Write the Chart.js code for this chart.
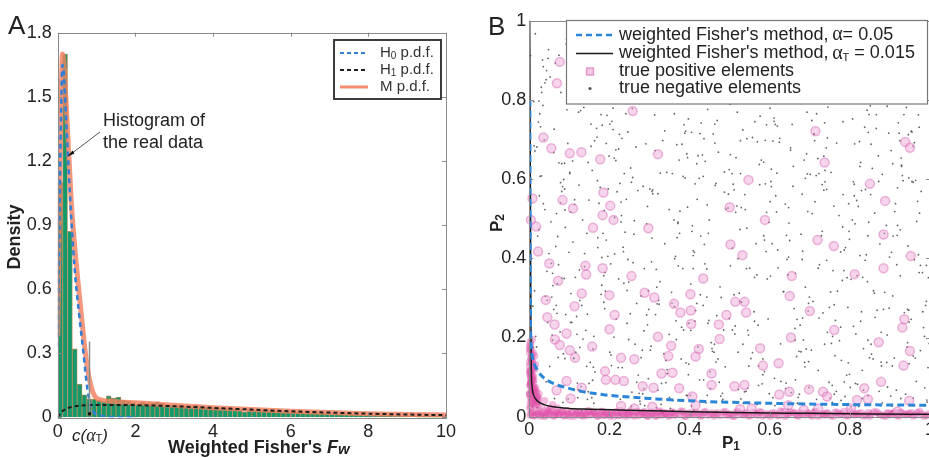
<!DOCTYPE html>
<html>
<head>
<meta charset="utf-8">
<script src="https://cdn.jsdelivr.net/npm/chart.js@4.4.1/dist/chart.umd.min.js"></script>
<style>
  html, body { margin: 0; padding: 0; background: #fff; overflow: hidden; width: 929px; height: 458px; }
  #wrapA { position: absolute; left: 0; top: 0; width: 460px; height: 458px; }
  #wrapB { position: absolute; left: 460px; top: 0; width: 480px; height: 458px; }
</style>
</head>
<body>
<div id="wrapA"><canvas id="chartA" width="460" height="458"></canvas></div>
<div id="wrapB"><canvas id="chartB" width="480" height="458"></canvas></div>
<script>
// ---------- panel A: distribution of the weighted Fisher statistic ----------
const binWidth = 0.125;
const histHeights = [
  1.10, 1.70, 0.87, 0.32, 0.155, 0.105, 0.085, 0.085, 0.080, 0.075,
  0.100, 0.090, 0.095, 0.080, 0.075, 0.070, 0.058, 0.070, 0.065, 0.068,
  0.072, 0.065, 0.060, 0.058, 0.055, 0.055, 0.052, 0.050, 0.058, 0.050,
  0.047, 0.045, 0.044, 0.043, 0.042, 0.040, 0.040, 0.036, 0.025, 0.035,
  0.033, 0.032, 0.031, 0.030, 0.028, 0.027, 0.026, 0.025, 0.024, 0.023,
  0.021, 0.022, 0.020, 0.019, 0.018, 0.018, 0.017, 0.016, 0.015, 0.015,
  0.014, 0.013, 0.013, 0.012, 0.012, 0.011, 0.011, 0.010, 0.010, 0.008,
  0.008, 0.007, 0.007, 0.007, 0.006, 0.006, 0.006, 0.005, 0.005, 0.005
];
const fwTicks = [0, 2, 4, 6, 8, 10];
const densityTicks = [0, 0.3, 0.6, 0.9, 1.2, 1.5, 1.8];

const h0X = [0, 0.03, 0.06, 0.09, 0.12, 0.15, 0.2, 0.27, 0.35, 0.45, 0.55, 0.65, 0.75, 0.85, 0.95, 1.1, 1.3, 1.6, 2.0];
const h0Y = [0.33, 0.75, 1.15, 1.48, 1.65, 1.62, 1.45, 1.2, 0.92, 0.66, 0.48, 0.32, 0.15, 0.05, 0.02, 0.008, 0.003, 0.001, 0];

const h1X = [0, 0.05, 0.1, 0.2, 0.3, 0.5, 0.8, 1.2, 1.6, 2, 2.5, 3, 3.5, 4, 5, 6, 7, 8, 9, 10];
const h1Y = [0, 0.015, 0.026, 0.038, 0.046, 0.053, 0.057, 0.058, 0.058, 0.057, 0.055, 0.052, 0.048, 0.044, 0.036, 0.028, 0.022, 0.017, 0.013, 0.010];

const mixX = [0, 0.03, 0.06, 0.09, 0.12, 0.15, 0.2, 0.27, 0.35, 0.45, 0.55, 0.65, 0.75, 0.85, 0.95, 1.1, 1.3, 1.6, 2, 2.5, 3, 3.5, 4, 5, 6, 7, 8, 9, 10];
const mixY = [0.38, 0.8, 1.2, 1.52, 1.70, 1.68, 1.52, 1.28, 1.0, 0.77, 0.58, 0.40, 0.245, 0.15, 0.1, 0.082, 0.076, 0.072, 0.068, 0.062, 0.056, 0.05, 0.045, 0.036, 0.028, 0.022, 0.017, 0.013, 0.011];

const cutoffX = 0.81;      // c(alpha_T)
const cutoffTop = 0.354;

// ---------- panel B: p-value pairs and rejection boundaries ----------
const pTicks = [0, 0.2, 0.4, 0.6, 0.8, 1];

const bound05X = [0.0015, 0.002, 0.003, 0.005, 0.008, 0.013, 0.02, 0.03, 0.045, 0.065, 0.09, 0.13, 0.19, 0.3, 0.4, 0.55, 0.7, 0.85, 1.0];
const bound05Y = [0.80, 0.45, 0.25, 0.175, 0.15, 0.132, 0.118, 0.104, 0.092, 0.082, 0.074, 0.064, 0.055, 0.046, 0.040, 0.035, 0.032, 0.030, 0.029];

const boundTX = [0.001, 0.003, 0.004, 0.005, 0.007, 0.01, 0.015, 0.022, 0.035, 0.06, 0.1, 0.15, 0.22, 0.3, 0.4, 0.55, 0.7, 0.85, 1.0];
const boundTY = [1.0, 0.5, 0.25, 0.12, 0.075, 0.057, 0.046, 0.038, 0.031, 0.025, 0.021, 0.019, 0.017, 0.015, 0.0125, 0.010, 0.0085, 0.007, 0.006];

// true positives away from the axes
const positivesScattered = [
  [0.076,0.896],[0.069,0.842],[0.258,0.772],[0.035,0.705],[0.055,0.678],[0.101,0.665],[0.130,0.668],[0.177,0.650],
  [0.321,0.663],[0.714,0.721],[0.737,0.642],[0.938,0.694],[0.950,0.679],[0.547,0.598],[0.850,0.588],[0.888,0.545],
  [0.008,0.551],[0.004,0.497],[0.017,0.480],[0.022,0.417],[0.083,0.547],[0.109,0.526],[0.185,0.566],[0.202,0.533],
  [0.183,0.509],[0.210,0.497],[0.159,0.477],[0.297,0.476],[0.500,0.529],[0.588,0.497],[0.502,0.435],[0.719,0.446],
  [0.760,0.431],[0.884,0.460],[0.952,0.406],[0.532,0.408],[0.050,0.387],[0.140,0.381],[0.142,0.359],[0.183,0.375],
  [0.072,0.343],[0.255,0.355],[0.434,0.349],[0.655,0.355],[0.812,0.360],[0.884,0.375],[0.041,0.295],[0.131,0.311],
  [0.200,0.307],[0.288,0.313],[0.312,0.301],[0.402,0.309],[0.361,0.285],[0.113,0.279],[0.045,0.251],[0.063,0.233],
  [0.093,0.210],[0.200,0.221],[0.213,0.257],[0.377,0.263],[0.403,0.268],[0.404,0.234],[0.514,0.290],[0.537,0.290],
  [0.541,0.263],[0.492,0.257],[0.473,0.233],[0.650,0.305],[0.700,0.267],[0.936,0.246],[0.931,0.225],[0.761,0.219],
  [0.653,0.200],[0.872,0.188],[0.950,0.166],[0.934,0.129],[0.064,0.195],[0.076,0.181],[0.101,0.168],[0.114,0.149],
  [0.157,0.177],[0.229,0.149],[0.262,0.145],[0.321,0.202],[0.354,0.179],[0.347,0.153],[0.423,0.171],[0.415,0.152],
  [0.475,0.196],[0.576,0.173],[0.583,0.129],[0.622,0.135],[0.189,0.115],[0.191,0.093],[0.215,0.093],[0.236,0.090],
  [0.093,0.090],[0.068,0.067],[0.131,0.073],[0.103,0.046],[0.330,0.109],[0.357,0.111],[0.374,0.072],[0.283,0.077],
  [0.310,0.073],[0.455,0.109],[0.455,0.080],[0.512,0.077],[0.537,0.080],[0.624,0.056],[0.649,0.063],[0.698,0.069],
  [0.733,0.063],[0.743,0.051],[0.818,0.042],[0.836,0.072],[0.878,0.088],[0.948,0.040],[0.845,0.044],[0.407,0.051],
  [0.415,0.029],[0.526,0.019],[0.555,0.021],[0.646,0.029],[0.685,0.017],[0.721,0.021],[0.803,0.021],[0.919,0.013],
  [0.229,0.027],[0.307,0.025],[0.262,0.021]
];

// true positives packed along p2 ~ 0 (values in thousandths)
const bandX = "002 008 013 021 027 030 038 044 049 057 063 066 074 081 086 093 097 105 112 118 124 131 137 142 150 156 161 169 176 183 189 194 201 208 215 222 228 236 243 249 255 262 270 277 284 290 297 305 311 318 326 332 339 347 355 362 374 383 391 402 410 423 431 440 452 461 470 484 493 501 512 520 533 541 552 566 574 583 597 606 618 627 638 647 659 668 676 689 698 707 716 728 737 745 758 769 778 790 801 812 821 834 846 853 867 878 889 897 906 918 927 939 948 957 968 979 991 "
  + "005 010 017 023 029 035 041 047 052 060 068 071 078 084 090 095 101 108 115 121 127 134 140 146 153 159 166 172 179 186 192 198 205 212 219 226 233 240 246 252 259 266 273 281 287 294 301 308 315 322 329 336 343 351 359 366 378 387 395 406 415 427 436 446 457 466 477 489 497 507 516 527 537 547 559 570 579 590 601 612 623 633 643 653 663 672 682 694 703 712 722 733 741 752 763 774 785 795 807 817 828 840 850 860 872 884 893 902 912 923 933 944 953 963 974 985 996";
const bandY = "004 011 002 008 014 006 001 010 005 013 003 009 007 012 002 015 006 010 001 008 012 004 009 003 014 006 011 002 007 013 005 010 001 008 012 003 015 006 009 004 011 002 013 007 010 005 001 012 008 003 014 006 009 002 011 004 007 013 001 010 005 008 003 012 006 002 009 011 004 007 001 013 005 010 003 008 012 002 006 009 004 014 001 007 011 003 010 005 008 002 012 006 004 009 001 011 007 003 013 005 008 002 010 006 012 004 001 009 007 003 011 005 008 002 010 007 003 "
  + "008 003 012 006 001 010 004 014 007 002 011 005 009 013 003 008 001 012 006 010 004 002 009 014 005 011 007 001 013 003 008 006 010 002 012 004 009 001 007 014 005 011 003 008 013 002 006 010 001 012 004 009 007 003 011 005 014 001 008 006 010 002 012 004 009 007 003 013 005 001 011 008 006 002 010 004 012 007 001 009 003 013 005 011 008 002 006 010 004 012 001 007 009 003 011 005 013 002 008 006 010 004 001 012 007 003 009 005 011 002 008 006 010 004 013 001 007";

// true positives packed along p1 ~ 0
const edgeX = "002 009 004 014 001 007 019 003 011 006 016 002 008 013 005 021 001 010 004 017 007 002 012 006 003 009 015 001 005 024 008 002 011 004 018 006 001 013 003 009 030 045 058 022 070 038 015 052 "
  + "003 006 001 012 004 008 002 015 005 010 001 007 003 018 006 002 011 004 009 001 013 005 003 020 007 002 016 004 010 001";
const edgeY = "021 034 047 029 058 066 038 079 052 091 044 103 072 061 117 049 128 085 097 033 142 110 069 156 086 124 041 171 137 057 094 188 075 149 063 107 162 119 082 134 025 018 030 045 022 040 060 020 "
  + "026 039 054 070 083 099 114 131 146 160 176 195 036 050 065 078 092 105 121 138 153 168 182 030 044 059 073 088 102 116";

// true negatives (values in thousandths)
const negX = [
  "003 071 042 016 088 059 024 081 035 062 006 049 093 027 067 010 078 031 058 084 045 014 096 039 072 023 055 002 086 069 030 090 047 012 061 081 034 000 097 025 074 056 019 089 043 066 008 078 037 091",
  "147 103 182 126 169 111 195 138 157 120 184 106 173 149 131 192 115 166 143 178 109 188 124 154 134 199 117 161 181 128 145 101 176 159 113 190 137 171 122 152 186 108 164 141 197 119 179 133 156 125",
  "213 268 241 295 226 279 204 253 287 236 219 262 298 231 274 207 248 284 222 265 239 291 211 257 276 229 203 244 282 216 261 234 297 209 252 271 225 288 246 218 264 237 293 201 255 279 214 242 286 223",
  "338 302 371 315 394 327 356 309 383 344 321 367 398 333 352 306 377 341 389 318 362 330 395 312 349 374 305 358 386 324 337 369 301 391 346 317 381 355 327 366 308 397 339 372 314 350 385 320 361 343",
  "418 463 402 487 431 456 409 494 444 425 472 413 481 438 459 405 497 428 466 447 416 485 434 471 403 452 491 422 462 439 409 478 445 427 496 457 414 483 436 468 401 449 489 421 476 443 411 464 432 499",
  "527 581 503 562 545 519 598 536 574 511 553 589 524 566 507 541 592 530 577 515 557 585 521 548 599 533 571 509 555 583 526 564 502 546 594 517 572 538 560 513 587 543 522 579 550 506 596 534 568 529",
  "643 609 688 625 671 604 657 696 618 682 636 664 611 699 647 623 678 652 606 691 631 668 615 685 640 659 602 675 627 693 650 613 681 637 661 608 697 644 620 674 656 634 689 617 663 601 679 646 628 692",
  "719 764 701 748 782 727 793 710 756 738 771 704 789 745 723 766 797 733 752 712 779 741 786 716 761 729 795 706 751 774 735 717 783 758 726 799 742 708 769 731 792 753 714 777 744 721 786 703 760 737",
  "834 871 806 859 822 893 845 817 878 852 801 866 838 889 827 854 813 881 842 868 809 896 831 875 848 819 862 837 884 825 857 803 873 846 891 815 863 829 879 841 807 869 853 898 823 844 811 886 858 833",
  "917 953 902 978 936 964 911 989 945 924 971 907 958 932 995 919 948 983 927 961 904 942 976 914 957 991 929 966 908 951 986 921 939 973 913 998 947 926 969 905 955 981 933 963 918 944 992 928 959 974",
  "051 012 087 033 068 005 094 046 021 079 058 015 083 040 063 028 099 052 009 074 037 089 018 065 044 001 077 030 092 056 024 070 011 085 048 035 061 096 019 073 042 007 081 054 026 067 013 088 039 057",
  "113 158 182 104 139 171 126 193 147 118 165 136 189 109 152 177 131 198 144 121 163 186 107 141 174 129 155 196 116 168 134 181 101 149 192 123 161 137 187 111 154 179 128 145 170 103 194 138 160 117",
  "236 271 205 258 289 217 246 283 229 264 201 295 241 274 223 252 286 212 268 235 299 248 219 277 206 259 291 232 266 213 244 282 227 255 297 209 272 238 261 225 288 203 251 279 216 242 293 230 267 256",
  "341 376 309 362 395 328 353 317 388 336 371 302 359 384 323 347 398 313 365 339 380 306 351 392 326 368 344 311 375 333 397 319 357 386 304 349 372 321 363 390 315 345 379 308 356 329 393 338 367 324",
  "426 461 407 493 444 418 479 452 403 487 435 469 412 498 446 424 482 457 409 471 438 496 415 463 441 428 485 454 401 476 432 467 419 490 448 405 474 437 458 421 499 443 413 481 466 429 451 406 488 434",
  "562 504 591 537 576 518 548 583 511 569 528 597 543 507 574 556 521 589 534 563 502 581 547 516 572 539 594 525 557 583 509 566 531 596 542 575 514 553 587 527 568 506 545 592 519 561 579 533 501 585",
  "626 667 603 689 645 614 678 633 697 652 608 671 639 684 621 659 694 641 611 676 648 629 687 604 664 637 698 617 655 682 624 669 642 606 691 658 635 673 612 686 647 601 663 628 695 654 619 681 638 673",
  "742 705 788 723 761 714 796 735 752 781 708 767 729 791 744 717 773 756 702 785 738 763 726 799 749 711 778 731 795 754 720 769 746 787 713 759 733 777 706 792 741 724 766 751 783 716 757 737 798 721",
  "856 814 879 832 897 845 821 868 803 886 851 827 874 839 892 812 861 846 883 825 857 809 872 837 894 818 864 849 881 806 876 843 829 888 853 817 869 834 899 824 863 841 878 811 855 887 831 866 847 893",
  "943 907 976 921 958 935 989 912 964 948 903 971 927 984 955 916 939 996 923 967 951 909 982 931 962 944 918 973 905 991 936 958 925 969 947 913 987 929 961 941 906 978 933 953 919 993 946 926 971 958"
];
const negY = [
  "912 455 088 203 640 331 797 569 884 726 148 412 953 607 281 175 540 819 362 036 294 671 908 523 150 744 387 016 599 261 832 478 905 123 667 350 786 219 045 558 913 302 681 147 874 430 025 591 699 258",
  "063 517 832 294 706 148 951 379 622 085 463 238 879 547 015 690 352 804 127 968 441 273 585 739 196 658 921 034 402 773 259 614 887 171 536 317 995 452 068 821 289 646 113 934 575 208 763 497 048 371",
  "411 087 765 232 589 943 156 628 374 017 812 495 271 703 059 936 340 582 124 857 466 689 201 778 039 542 915 319 168 647 883 428 096 725 260 571 004 838 397 952 183 614 487 739 026 305 866 549 217 676",
  "722 168 491 836 053 615 287 948 374 109 563 808 236 697 021 451 879 142 603 327 765 084 529 971 208 648 391 015 737 284 916 452 575 136 859 023 688 314 797 242 563 106 926 381 672 049 219 834 497 617",
  "286 739 054 618 943 172 407 821 535 093 668 241 975 386 714 027 562 849 138 463 792 219 607 968 335 071 524 887 183 645 419 052 776 308 931 165 588 044 702 255 871 497 126 659 938 373 016 584 827 248",
  "614 083 947 352 218 769 491 035 826 573 147 698 312 951 426 064 737 289 880 516 162 643 399 979 058 724 231 587 843 106 473 011 662 917 348 795 128 561 853 209 446 702 069 982 375 614 247 893 031 528",
  "397 852 126 703 049 581 934 267 615 418 871 093 746 302 528 983 164 679 437 012 795 246 558 893 071 632 355 917 184 769 445 028 562 811 273 696 139 984 421 057 738 316 602 875 193 543 947 358 089 664",
  "958 243 612 087 479 826 351 714 036 593 901 168 427 782 249 064 538 873 315 697 142 986 421 609 057 834 276 513 905 192 658 044 745 369 823 107 574 291 946 468 031 617 859 226 704 375 088 961 532 183",
  "172 659 943 318 026 784 457 896 213 561 074 728 395 916 642 158 487 035 801 269 593 947 117 436 763 082 514 879 271 632 995 347 064 718 483 209 836 571 128 409 752 003 688 274 965 341 558 817 146 903",
  "384 721 052 916 263 597 148 849 431 016 762 305 683 947 124 578 239 871 046 692 415 803 167 538 974 291 632 089 456 815 203 742 057 364 921 185 603 472 838 027 719 364 596 148 886 271 042 653 917 514",
  "127 684 349 901 513 062 775 238 456 819 193 967 581 304 046 732 415 858 279 641 003 522 176 893 367 749 214 608 941 085 473 336 796 159 927 538 271 690 023 384 851 117 639 492 765 006 318 575 843 206",
  "548 092 736 311 869 427 175 993 642 253 016 781 364 905 137 579 281 824 463 048 697 356 912 218 539 076 852 405 163 728 991 332 617 084 446 769 203 958 521 147 683 309 872 044 596 238 761 412 125 934",
  "337 861 129 604 983 247 719 058 492 876 163 531 012 795 348 924 071 653 286 417 839 195 568 032 746 389 957 124 681 503 236 867 044 592 318 779 105 954 461 713 028 386 821 149 674 933 257 508 796 062",
  "086 519 943 278 654 017 831 372 716 159 488 923 041 607 294 858 133 762 405 978 226 569 892 054 341 687 119 836 463 009 752 285 614 937 178 523 846 067 399 721 258 984 146 573 812 031 664 437 195 906",
  "715 163 482 927 054 639 301 876 218 567 093 748 415 981 236 602 059 839 374 146 913 527 268 691 035 456 804 187 973 328 661 012 549 896 243 718 087 435 963 176 624 302 851 039 589 742 114 468 935 281",
  "241 886 417 063 759 532 128 973 308 694 045 851 476 219 637 992 163 588 034 745 381 917 206 654 079 523 838 291 705 146 968 437 012 861 374 586 229 943 114 697 358 801 072 516 934 265 648 183 789 457",
  "863 152 594 327 019 738 461 905 286 673 048 819 537 194 376 942 613 085 754 231 489 968 137 625 362 891 074 517 806 249 693 034 458 927 171 582 316 854 097 648 403 779 223 951 518 061 734 397 876 165",
  "395 748 051 614 283 927 136 572 809 344 018 691 457 982 213 765 508 079 836 369 622 154 907 448 276 713 041 586 933 185 652 317 874 029 543 798 262 416 958 105 679 384 821 047 561 936 203 742 468 117",
  "627 084 948 352 716 193 531 869 026 463 785 241 918 574 137 689 312 053 846 407 962 228 594 731 075 356 883 149 612 497 028 774 265 938 183 546 819 067 403 695 251 972 138 587 824 314 046 763 491 206",
  "176 639 382 915 047 763 281 518 896 134 672 409 958 225 594 067 837 351 716 493 028 874 265 609 942 187 458 731 014 382 826 153 697 544 269 918 073 635 397 781 128 569 905 246 483 037 712 356 864 592"
];

// ---------- helpers ----------
const SANS = '"Liberation Sans", Arial, sans-serif';
const SERIF = '"Liberation Serif", "Times New Roman", serif';
const INK = '#222';

const milli = s => s.trim().split(/\s+/).map(v => +v / 1000);
const toPoints = (xs, ys) => xs.slice(0, Math.min(xs.length, ys.length)).map((x, i) => ({ x, y: ys[i] }));
const linePoints = (xs, ys) => xs.map((x, i) => ({ x, y: ys[i] }));

function drawRuns(ctx, x, y, parts) {
  for (const p of parts) {
    ctx.font = p.font;
    ctx.fillText(p.text, x, y + (p.dy || 0));
    x += ctx.measureText(p.text).width;
  }
  return x;
}
function runsWidth(ctx, parts) {
  let w = 0;
  for (const p of parts) { ctx.font = p.font; w += ctx.measureText(p.text).width; }
  return w;
}
function frameWithTicks(ctx, a, x, y, xt, yt, color) {
  ctx.strokeStyle = color;
  ctx.lineWidth = 1;
  ctx.strokeRect(Math.round(a.left) + 0.5, Math.round(a.top) + 0.5,
    Math.round(a.right - a.left), Math.round(a.bottom - a.top));
  ctx.beginPath();
  xt.forEach(v => {
    const px = Math.round(x.getPixelForValue(v)) + 0.5;
    ctx.moveTo(px, a.bottom); ctx.lineTo(px, a.bottom - 4);
    ctx.moveTo(px, a.top); ctx.lineTo(px, a.top + 4);
  });
  yt.forEach(v => {
    const py = Math.round(y.getPixelForValue(v)) + 0.5;
    ctx.moveTo(a.left, py); ctx.lineTo(a.left + 4, py);
    ctx.moveTo(a.right, py); ctx.lineTo(a.right - 4, py);
  });
  ctx.stroke();
}
const fixedTicks = list => scale => { scale.ticks = list.map(v => ({ value: v })); };
const tickLabel = v => String(+v.toFixed(2));

// ---------- panel A ----------
const panelA = {
  id: 'panelA',
  afterDatasetsDraw(chart) {
    const { ctx, chartArea: a, scales: { x, y } } = chart;
    ctx.save();
    const cx = Math.round(x.getPixelForValue(cutoffX)) + 0.5;
    ctx.strokeStyle = '#8c8c8c';
    ctx.lineWidth = 1.5;
    ctx.beginPath();
    ctx.moveTo(cx, y.getPixelForValue(cutoffTop));
    ctx.lineTo(cx, a.bottom);
    ctx.stroke();
    ctx.fillStyle = '#111';
    ctx.fillRect(cx - 1.5, a.bottom - 5, 3, 3);
    ctx.restore();
  },
  afterDraw(chart) {
    const { ctx, chartArea: a, scales: { x, y } } = chart;
    ctx.save();
    frameWithTicks(ctx, a, x, y, fwTicks, densityTicks, '#8a8a8a');

    // legend
    ctx.fillStyle = '#fff';
    ctx.fillRect(334, 40, 107, 59);
    ctx.strokeStyle = '#3c3c3c';
    ctx.lineWidth = 2;
    ctx.strokeRect(334, 40, 107, 59);
    const items = [
      { sub: '0', color: '#3b7fd4', dash: [4, 3], w: 2, label: ' p.d.f.', head: 'H' },
      { sub: '1', color: '#1e1e1e', dash: [4, 3], w: 2, label: ' p.d.f.', head: 'H' },
      { sub: '', color: 'rgba(243,128,95,0.9)', dash: [], w: 3, label: 'M p.d.f.', head: '' }
    ];
    items.forEach((it, i) => {
      const ly = 53 + i * 17;
      ctx.strokeStyle = it.color;
      ctx.lineWidth = it.w;
      ctx.setLineDash(it.dash);
      ctx.beginPath(); ctx.moveTo(340, ly); ctx.lineTo(368, ly); ctx.stroke();
      ctx.setLineDash([]);
      ctx.fillStyle = '#333';
      ctx.textBaseline = 'middle';
      ctx.textAlign = 'left';
      const parts = [];
      if (it.head) parts.push({ text: it.head, font: '15px ' + SANS });
      if (it.sub) parts.push({ text: it.sub, font: '10px ' + SANS, dy: 3 });
      parts.push({ text: it.label, font: '15px ' + SANS });
      drawRuns(ctx, 380, ly, parts);
    });

    // annotation with arrow
    ctx.fillStyle = INK;
    ctx.font = '18px ' + SANS;
    ctx.textBaseline = 'middle';
    ctx.fillText('Histogram of', 103, 121);
    ctx.fillText('the real data', 103, 143);
    ctx.strokeStyle = '#555';
    ctx.lineWidth = 1;
    ctx.beginPath(); ctx.moveTo(100, 132); ctx.lineTo(69, 155.5); ctx.stroke();
    ctx.fillStyle = '#111';
    ctx.beginPath();
    ctx.moveTo(67.5, 156.5); ctx.lineTo(72.5, 150.5); ctx.lineTo(74.5, 153.5); ctx.closePath();
    ctx.fill();

    // axis labels
    ctx.fillStyle = INK;
    ctx.font = '26px ' + SANS;
    ctx.textBaseline = 'alphabetic';
    ctx.fillText('A', 8, 34);

    ctx.save();
    ctx.translate(15, 237);
    ctx.rotate(-Math.PI / 2);
    ctx.textAlign = 'center';
    ctx.textBaseline = 'middle';
    ctx.font = 'bold 18px ' + SANS;
    ctx.fillText('Density', 0, 0);
    ctx.restore();

    ctx.textBaseline = 'middle';
    ctx.textAlign = 'left';
    drawRuns(ctx, 168, 448, [
      { text: "Weighted Fisher's ", font: 'bold 18px ' + SANS },
      { text: 'F', font: 'italic bold 18px ' + SANS },
      { text: 'w', font: 'italic bold 15px ' + SANS, dy: 2 }
    ]);

    drawRuns(ctx, 72, 436, [
      { text: 'c(', font: 'italic 17px ' + SANS },
      { text: 'α', font: 'italic 18px ' + SERIF },
      { text: 'T', font: '11px ' + SANS, dy: 3 },
      { text: ')', font: 'italic 17px ' + SANS }
    ]);
    ctx.restore();
  }
};

new Chart(document.getElementById('chartA'), {
  type: 'bar',
  data: {
    datasets: [
      {
        type: 'line', label: 'H1 p.d.f.', order: 1,
        data: linePoints(h1X, h1Y),
        borderColor: '#1e1e1e', borderWidth: 2, borderDash: [4, 3],
        pointRadius: 0, cubicInterpolationMode: 'monotone', fill: false
      },
      {
        type: 'line', label: 'H0 p.d.f.', order: 2,
        data: linePoints(h0X, h0Y),
        borderColor: '#2f7fd6', borderWidth: 2.5, borderDash: [5, 4],
        pointRadius: 0, cubicInterpolationMode: 'monotone', fill: false
      },
      {
        type: 'line', label: 'M p.d.f.', order: 3,
        data: linePoints(mixX, mixY),
        borderColor: 'rgba(243,128,95,0.82)', borderWidth: 5,
        pointRadius: 0, cubicInterpolationMode: 'monotone', fill: false
      },
      {
        type: 'bar', label: 'histogram', order: 4,
        data: histHeights.map((h, i) => ({ x: (i + 0.5) * binWidth, y: h })),
        backgroundColor: '#15996a', borderColor: '#b98c5c', borderWidth: 0.8,
        borderSkipped: 'bottom', barPercentage: 1, categoryPercentage: 1
      }
    ]
  },
  options: {
    responsive: false,
    animation: false,
    events: [],
    layout: { padding: { top: 32.7, right: 14, left: 0, bottom: 0 } },
    plugins: { legend: { display: false }, tooltip: { enabled: false } },
    scales: {
      x: {
        type: 'linear', min: 0, max: 10, offset: false,
        afterBuildTicks: fixedTicks(fwTicks),
        afterFit: s => { s.height = 40.7; },
        grid: { display: false, drawTicks: false, offset: false },
        border: { display: false },
        ticks: { font: { family: SANS, size: 18 }, color: INK, padding: 4, callback: tickLabel, maxRotation: 0 }
      },
      y: {
        min: 0, max: 1.8,
        afterBuildTicks: fixedTicks(densityTicks),
        afterFit: s => { s.width = 57.8; },
        grid: { display: false, drawTicks: false },
        border: { display: false },
        ticks: { font: { family: SANS, size: 18 }, color: INK, padding: 6, callback: tickLabel }
      }
    }
  },
  plugins: [panelA]
});

// ---------- panel B ----------
const positives = positivesScattered.map(([x, y]) => ({ x, y }));
const positivesPacked = toPoints(milli(bandX), milli(bandY))
  .concat(toPoints(milli(edgeX), milli(edgeY)));
const negatives = toPoints(milli(negX.join(' ')), milli(negY.join(' ')));

const panelB = {
  id: 'panelB',
  afterDraw(chart) {
    const { ctx, chartArea: a, scales: { x, y } } = chart;
    ctx.save();
    frameWithTicks(ctx, a, x, y, pTicks, pTicks, '#8a8a8a');

    // legend
    ctx.fillStyle = '#fff';
    ctx.fillRect(106.5, 20.5, 361, 83.5);
    ctx.strokeStyle = '#777';
    ctx.lineWidth = 1.2;
    ctx.strokeRect(106.5, 20.5, 361, 83.5);

    ctx.lineWidth = 2.5;
    ctx.strokeStyle = '#2b86d8';
    ctx.setLineDash([6, 4]);
    ctx.beginPath(); ctx.moveTo(116, 35); ctx.lineTo(153, 35); ctx.stroke();
    ctx.setLineDash([]);
    ctx.lineWidth = 1.5;
    ctx.strokeStyle = '#1a1a1a';
    ctx.beginPath(); ctx.moveTo(116, 53.5); ctx.lineTo(153, 53.5); ctx.stroke();

    ctx.fillStyle = 'rgba(240,195,225,0.9)';
    ctx.fillRect(126.5, 68, 7, 7);
    ctx.strokeStyle = 'rgba(220,120,185,0.7)';
    ctx.lineWidth = 1.5;
    ctx.strokeRect(126.5, 68, 7, 7);
    ctx.fillStyle = '#555';
    ctx.beginPath(); ctx.arc(130, 88.5, 1.6, 0, Math.PI * 2); ctx.fill();

    ctx.fillStyle = INK;
    ctx.textBaseline = 'middle';
    ctx.textAlign = 'left';
    const tx = 159;
    drawRuns(ctx, tx, 35, [
      { text: "weighted Fisher's method,\u2009", font: '18px ' + SANS },
      { text: 'α', font: '20px ' + SERIF },
      { text: '= 0.05', font: '18px ' + SANS }
    ]);
    drawRuns(ctx, tx, 53.5, [
      { text: "weighted Fisher's method,\u2009", font: '18px ' + SANS },
      { text: 'α', font: '20px ' + SERIF },
      { text: 'T', font: '11px ' + SANS, dy: 4 },
      { text: ' = 0.015', font: '18px ' + SANS }
    ]);
    ctx.font = '18px ' + SANS;
    ctx.fillText('true positive elements', tx, 71.5);
    ctx.fillText('true negative elements', tx, 88.5);

    // panel letter and axis titles
    ctx.font = '26px ' + SANS;
    ctx.textBaseline = 'alphabetic';
    ctx.fillText('B', 28, 35);

    ctx.textBaseline = 'middle';
    const p1 = [
      { text: 'P', font: 'bold 17px ' + SANS },
      { text: '1', font: 'bold 12px ' + SANS, dy: 4 }
    ];
    drawRuns(ctx, 271 - runsWidth(ctx, p1) / 2, 443, p1);

    ctx.save();
    ctx.translate(37, 223);
    ctx.rotate(-Math.PI / 2);
    const p2 = [
      { text: 'P', font: 'bold 17px ' + SANS },
      { text: '2', font: 'bold 12px ' + SANS, dy: 4 }
    ];
    drawRuns(ctx, -runsWidth(ctx, p2) / 2, 0, p2);
    ctx.restore();
    ctx.restore();
  }
};

new Chart(document.getElementById('chartB'), {
  type: 'scatter',
  data: {
    datasets: [
      {
        type: 'line', label: 'weighted Fisher, alpha = 0.05', order: 1,
        data: linePoints(bound05X, bound05Y),
        borderColor: '#2b86d8', borderWidth: 3, borderDash: [7, 4],
        pointRadius: 0, cubicInterpolationMode: 'monotone', fill: false
      },
      {
        type: 'line', label: 'weighted Fisher, alpha_T = 0.015', order: 2,
        data: linePoints(boundTX, boundTY),
        borderColor: '#1a1a1a', borderWidth: 1.5,
        pointRadius: 0, cubicInterpolationMode: 'monotone', fill: false
      },
      {
        label: 'true positive elements', order: 3, clip: false,
        data: positives,
        pointRadius: 4.5, pointBorderWidth: 1.5,
        backgroundColor: 'rgba(234,160,210,0.45)', borderColor: 'rgba(214,100,178,0.45)'
      },
      {
        label: 'true positive elements (packed)', order: 4, clip: false,
        data: positivesPacked,
        pointRadius: 3.8, pointBorderWidth: 0,
        backgroundColor: 'rgba(224,80,168,0.38)', borderColor: 'rgba(0,0,0,0)'
      },
      {
        label: 'true negative elements', order: 5,
        data: negatives,
        pointRadius: 0.9, pointBorderWidth: 0,
        backgroundColor: 'rgba(60,60,60,0.8)', borderColor: 'rgba(0,0,0,0)'
      }
    ]
  },
  options: {
    responsive: false,
    animation: false,
    events: [],
    layout: { padding: { top: 20.7, right: 10, left: 0, bottom: 0 } },
    plugins: { legend: { display: false }, tooltip: { enabled: false } },
    scales: {
      x: {
        type: 'linear', min: 0, max: 1,
        afterBuildTicks: fixedTicks(pTicks),
        afterFit: s => { s.height = 41.3; },
        grid: { display: false, drawTicks: false },
        border: { display: false },
        ticks: { font: { family: SANS, size: 18 }, color: INK, padding: 3, callback: tickLabel, maxRotation: 0 }
      },
      y: {
        type: 'linear', min: 0, max: 1,
        afterBuildTicks: fixedTicks(pTicks),
        afterFit: s => { s.width = 69.3; },
        grid: { display: false, drawTicks: false },
        border: { display: false },
        ticks: { font: { family: SANS, size: 18 }, color: INK, padding: 3, callback: tickLabel }
      }
    }
  },
  plugins: [panelB]
});
</script>
</body>
</html>
